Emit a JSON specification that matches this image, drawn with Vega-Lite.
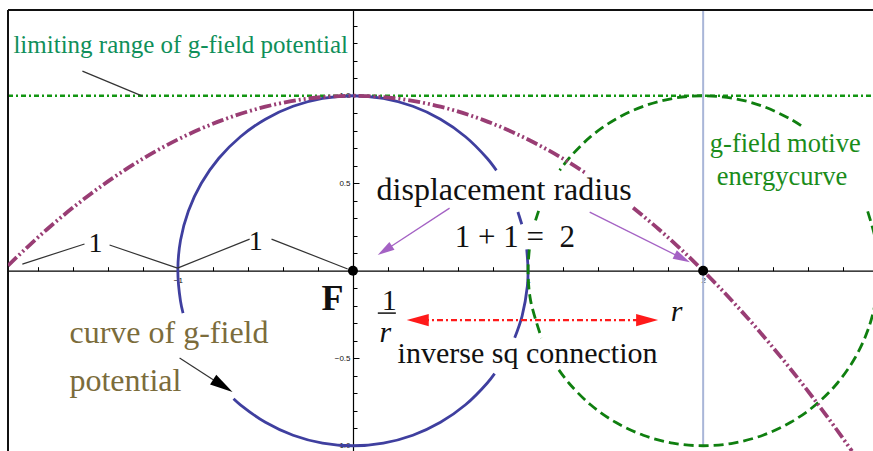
{
  "$schema": "https://vega.github.io/schema/vega-lite/v6.json",
  "width": 865,
  "height": 441,
  "padding": {"left": 8, "top": 10, "right": 0, "bottom": 0},
  "autosize": {"type": "none"},
  "background": "white",
  "config": {"view": {"stroke": null}, "text": {"font": "Liberation Serif, Times New Roman, serif"}},
  "datasets": {
    "blue": [
      {"s":1,"i":1,"x":0.8192,"y":0.5736},{"s":1,"i":2,"x":0.7660,"y":0.6428},{"s":1,"i":3,"x":0.6428,"y":0.7660},{"s":1,"i":4,"x":0.5,"y":0.8660},{"s":1,"i":5,"x":0.3420,"y":0.9397},{"s":1,"i":6,"x":0.1736,"y":0.9848},{"s":1,"i":7,"x":0,"y":1},{"s":1,"i":8,"x":-0.1736,"y":0.9848},{"s":1,"i":9,"x":-0.3420,"y":0.9397},{"s":1,"i":10,"x":-0.5,"y":0.8660},{"s":1,"i":11,"x":-0.6428,"y":0.7660},{"s":1,"i":12,"x":-0.7660,"y":0.6428},{"s":1,"i":13,"x":-0.8660,"y":0.5},{"s":1,"i":14,"x":-0.9397,"y":0.3420},{"s":1,"i":15,"x":-0.9848,"y":0.1736},{"s":1,"i":16,"x":-1,"y":0},{"s":1,"i":17,"x":-0.9848,"y":-0.1736},{"s":1,"i":18,"x":-0.9703,"y":-0.2419},
      {"s":2,"i":19,"x":-0.6820,"y":-0.7314},{"s":2,"i":20,"x":-0.6428,"y":-0.7660},{"s":2,"i":21,"x":-0.5,"y":-0.8660},{"s":2,"i":22,"x":-0.3420,"y":-0.9397},{"s":2,"i":23,"x":-0.1736,"y":-0.9848},{"s":2,"i":24,"x":0,"y":-1},{"s":2,"i":25,"x":0.1736,"y":-0.9848},{"s":2,"i":26,"x":0.3420,"y":-0.9397},{"s":2,"i":27,"x":0.5,"y":-0.8660},{"s":2,"i":28,"x":0.6428,"y":-0.7660},{"s":2,"i":29,"x":0.7660,"y":-0.6428},{"s":2,"i":30,"x":0.8090,"y":-0.5878},
      {"s":3,"i":31,"x":0.9239,"y":-0.3827},{"s":3,"i":32,"x":0.9659,"y":-0.2588},{"s":3,"i":33,"x":0.9962,"y":-0.0872},{"s":3,"i":34,"x":1,"y":0},{"s":3,"i":35,"x":0.9925,"y":0.1219},
      {"s":4,"i":36,"x":0.9641,"y":0.2656},{"s":4,"i":37,"x":0.9421,"y":0.3355}
    ],
    "green": [
      {"s":1,"i":1,"x":2.5592,"y":0.8290},{"s":1,"i":2,"x":2.5,"y":0.8660},{"s":1,"i":3,"x":2.3420,"y":0.9397},{"s":1,"i":4,"x":2.1736,"y":0.9848},{"s":1,"i":5,"x":2,"y":1},{"s":1,"i":6,"x":1.8264,"y":0.9848},{"s":1,"i":7,"x":1.6580,"y":0.9397},{"s":1,"i":8,"x":1.5,"y":0.8660},{"s":1,"i":9,"x":1.3572,"y":0.7660},{"s":1,"i":10,"x":1.2340,"y":0.6428},{"s":1,"i":11,"x":1.1808,"y":0.5736},
      {"s":2,"i":12,"x":1.0603,"y":0.3420},{"s":2,"i":13,"x":1.0387,"y":0.2756},
      {"s":3,"i":14,"x":1.0075,"y":0.1219},{"s":3,"i":15,"x":1,"y":0},{"s":3,"i":16,"x":1.0152,"y":-0.1736},{"s":3,"i":17,"x":1.0768,"y":-0.3843},
      {"s":4,"i":18,"x":1.1759,"y":-0.5664},{"s":4,"i":19,"x":1.2340,"y":-0.6428},{"s":4,"i":20,"x":1.3572,"y":-0.7660},{"s":4,"i":21,"x":1.5,"y":-0.8660},{"s":4,"i":22,"x":1.6580,"y":-0.9397},{"s":4,"i":23,"x":1.8264,"y":-0.9848},{"s":4,"i":24,"x":2,"y":-1},{"s":4,"i":25,"x":2.1736,"y":-0.9848},{"s":4,"i":26,"x":2.3420,"y":-0.9397},{"s":4,"i":27,"x":2.5,"y":-0.8660},{"s":4,"i":28,"x":2.6428,"y":-0.7660},{"s":4,"i":29,"x":2.7660,"y":-0.6428},{"s":4,"i":30,"x":2.8660,"y":-0.5},{"s":4,"i":31,"x":2.9397,"y":-0.3420},{"s":4,"i":32,"x":2.9848,"y":-0.1736},{"s":4,"i":33,"x":3,"y":0},{"s":4,"i":34,"x":2.9848,"y":0.1736},{"s":4,"i":35,"x":2.9336,"y":0.3584}
    ],
    "parab": [
      {"s":1,"i":1,"x":-1.97,"y":0.0298},{"s":1,"i":2,"x":-1.75,"y":0.2344},{"s":1,"i":3,"x":-1.5,"y":0.4375},{"s":1,"i":4,"x":-1.25,"y":0.6094},{"s":1,"i":5,"x":-1,"y":0.75},{"s":1,"i":6,"x":-0.75,"y":0.8594},{"s":1,"i":7,"x":-0.5,"y":0.9375},{"s":1,"i":8,"x":-0.25,"y":0.9844},{"s":1,"i":9,"x":0,"y":1},{"s":1,"i":10,"x":0.25,"y":0.9844},{"s":1,"i":11,"x":0.5,"y":0.9375},{"s":1,"i":12,"x":0.75,"y":0.8594},{"s":1,"i":13,"x":1,"y":0.75},{"s":1,"i":14,"x":1.25,"y":0.6094},{"s":1,"i":15,"x":1.33,"y":0.5578},
      {"s":2,"i":16,"x":1.6,"y":0.36},{"s":2,"i":17,"x":1.75,"y":0.2344},{"s":2,"i":18,"x":2,"y":0},{"s":2,"i":19,"x":2.25,"y":-0.2656},{"s":2,"i":20,"x":2.5,"y":-0.5625},{"s":2,"i":21,"x":2.75,"y":-0.8906},{"s":2,"i":22,"x":2.85,"y":-1.0306}
    ]
  },
  "encoding": {
    "x": {"field": "x", "type": "quantitative", "scale": {"domain": [-1.97, 2.97], "nice": false, "zero": false}, "axis": null},
    "y": {"field": "y", "type": "quantitative", "scale": {"domain": [-1.03, 1.49], "nice": false, "zero": false}, "axis": null}
  },
  "resolve": {"axis": {"x": "independent", "y": "independent"}},
  "layer": [
    {
      "data": {"values": [{"x": 2, "y": -1, "x2": 2, "y2": 1.49}]},
      "mark": {"type": "rule", "color": "#a9b6d8", "strokeWidth": 2},
      "encoding": {
        "x": {"field": "x", "type": "quantitative", "scale": {"domain": [-1.97, 2.97], "nice": false, "zero": false},
          "axis": {"orient": "bottom", "offset": -180.3, "values": [-1, 1, 2], "format": "d", "ticks": false, "domain": false, "grid": false, "title": null, "labelFont": "Liberation Sans", "labelFontSize": 8, "labelColor": "#111", "labelPadding": 6}},
        "y": {"field": "y", "type": "quantitative", "scale": {"domain": [-1.03, 1.49], "nice": false, "zero": false},
          "axis": {"orient": "left", "offset": -345, "values": [-1, -0.5, 0.5, 1, 1.5], "format": ".1f", "ticks": false, "domain": false, "grid": false, "title": null, "labelFont": "Liberation Sans", "labelFontSize": 8, "labelColor": "#111", "labelPadding": 3}},
        "x2": {"field": "x2"}, "y2": {"field": "y2"}
      }
    },
    {
      "data": {"values": [{"x": -1.97, "y": 1, "x2": 2.97, "y2": 1}]},
      "mark": {"type": "rule", "color": "#129612", "strokeWidth": 2.6, "strokeDash": [5, 3, 2, 3]},
      "encoding": {
        "x": {"field": "x", "type": "quantitative", "scale": {"domain": [-1.97, 2.97], "nice": false, "zero": false},
          "axis": {"orient": "bottom", "offset": -180.3, "values": [-1, 1, 2], "labels": false, "tickSize": -6, "tickColor": "black", "tickWidth": 1, "domain": false, "grid": false, "title": null}},
        "y": {"field": "y", "type": "quantitative", "scale": {"domain": [-1.03, 1.49], "nice": false, "zero": false},
          "axis": {"orient": "left", "offset": -345, "values": [-1, -0.5, 0.5, 1], "labels": false, "tickSize": -6, "tickColor": "black", "tickWidth": 1, "domain": false, "grid": false, "title": null}},
        "x2": {"field": "x2"}, "y2": {"field": "y2"}
      }
    },
    {
      "data": {"values": [{"x": -1.97, "y": -1.03, "x2": -1.97, "y2": 1.49}, {"x": -1.97, "y": 1.49, "x2": 2.97, "y2": 1.49}]},
      "mark": {"type": "rule", "color": "#111", "strokeWidth": 2},
      "encoding": {
        "x": {"field": "x", "type": "quantitative", "scale": {"domain": [-1.97, 2.97], "nice": false, "zero": false},
          "axis": {"orient": "bottom", "offset": -180.3, "values": [-1.8, -1.6, -1.4, -1.2, -0.8, -0.6, -0.4, -0.2, 0.2, 0.4, 0.6, 0.8, 1.2, 1.4, 1.6, 1.8, 2.2, 2.4, 2.6, 2.8], "labels": false, "tickSize": -4, "tickColor": "black", "tickWidth": 1, "domain": true, "domainColor": "black", "domainWidth": 1.2, "grid": false, "title": null}},
        "y": {"field": "y", "type": "quantitative", "scale": {"domain": [-1.03, 1.49], "nice": false, "zero": false},
          "axis": {"orient": "left", "offset": -345, "values": [-0.9, -0.8, -0.7, -0.6, -0.4, -0.3, -0.2, -0.1, 0.1, 0.2, 0.3, 0.4, 0.6, 0.7, 0.8, 0.9, 1.1, 1.2, 1.3, 1.4], "labels": false, "tickSize": -4, "tickColor": "black", "tickWidth": 1, "domain": true, "domainColor": "black", "domainWidth": 1.2, "grid": false, "title": null}},
        "x2": {"field": "x2"}, "y2": {"field": "y2"}
      }
    },
    {
      "data": {"name": "blue"},
      "mark": {"type": "line", "color": "#3f3f9f", "strokeWidth": 2.8, "interpolate": "catmull-rom", "clip": true},
      "encoding": {"detail": {"field": "s"}, "order": {"field": "i", "type": "quantitative"}}
    },
    {
      "data": {"name": "green"},
      "mark": {"type": "line", "color": "#0f7f0f", "strokeWidth": 2.8, "strokeDash": [10, 5], "interpolate": "catmull-rom", "clip": true},
      "encoding": {"detail": {"field": "s"}, "order": {"field": "i", "type": "quantitative"}}
    },
    {
      "data": {"name": "parab"},
      "mark": {"type": "line", "color": "#993d74", "strokeWidth": 3.8, "strokeDash": [12, 3, 2, 3, 2, 3], "interpolate": "monotone", "clip": true},
      "encoding": {"detail": {"field": "s"}, "order": {"field": "i", "type": "quantitative"}}
    },
    {
      "data": {"values": [
        {"x": -1.888, "y": 0.038, "x2": -1.533, "y2": 0.153},
        {"x": -1.39, "y": 0.147, "x2": -1.002, "y2": 0.015},
        {"x": -1.002, "y": 0.015, "x2": -0.59, "y2": 0.181},
        {"x": -0.465, "y": 0.181, "x2": -0.03, "y2": 0.01},
        {"x": -1.545, "y": 1.141, "x2": -1.202, "y2": 0.998},
        {"x": -0.99, "y": -0.499, "x2": -0.743, "y2": -0.658}
      ]},
      "mark": {"type": "rule", "color": "#333", "strokeWidth": 1.2},
      "encoding": {"x2": {"field": "x2"}, "y2": {"field": "y2"}}
    },
    {
      "data": {"values": [
        {"x": 0.552, "y": 0.358, "x2": 0.182, "y2": 0.116},
        {"x": 1.352, "y": 0.335, "x2": 1.881, "y2": 0.071}
      ]},
      "mark": {"type": "rule", "color": "#a462c4", "strokeWidth": 1.3},
      "encoding": {"x2": {"field": "x2"}, "y2": {"field": "y2"}}
    },
    {
      "data": {"values": [{"x": 0.40, "y": -0.282, "x2": 1.65, "y2": -0.282}]},
      "mark": {"type": "rule", "color": "#ff1a1a", "strokeWidth": 2.4, "strokeDash": [6, 3, 2, 3]},
      "encoding": {"x2": {"field": "x2"}, "y2": {"field": "y2"}}
    },
    {
      "data": {"values": [{"x": 0.142, "y": -0.242, "x2": 0.245, "y2": -0.242}]},
      "mark": {"type": "rule", "color": "#111", "strokeWidth": 1.5},
      "encoding": {"x2": {"field": "x2"}, "y2": {"field": "y2"}}
    },
    {
      "data": {"values": [{"x": -0.743, "y": -0.658}]},
      "mark": {"type": "point", "shape": "M1,0L-1,-0.5L-1,0.5Z", "size": 529, "angle": 32.7, "filled": true, "color": "#000", "opacity": 1, "strokeWidth": 0}
    },
    {
      "data": {"values": [{"x": 0.182, "y": 0.116}]},
      "mark": {"type": "point", "shape": "M1,0L-1,-0.55L-1,0.55Z", "size": 289, "angle": 146.9, "filled": true, "color": "#a462c4", "opacity": 1, "strokeWidth": 0}
    },
    {
      "data": {"values": [{"x": 1.881, "y": 0.071}]},
      "mark": {"type": "point", "shape": "M1,0L-1,-0.55L-1,0.55Z", "size": 289, "angle": 26.6, "filled": true, "color": "#a462c4", "opacity": 1, "strokeWidth": 0}
    },
    {
      "data": {"values": [{"x": 0.37, "y": -0.282}]},
      "mark": {"type": "point", "shape": "M1,0L-1,-0.55L-1,0.55Z", "size": 484, "angle": 180, "filled": true, "color": "#ff1a1a", "opacity": 1, "strokeWidth": 0}
    },
    {
      "data": {"values": [{"x": 1.68, "y": -0.282}]},
      "mark": {"type": "point", "shape": "M1,0L-1,-0.55L-1,0.55Z", "size": 484, "angle": 0, "filled": true, "color": "#ff1a1a", "opacity": 1, "strokeWidth": 0}
    },
    {
      "data": {"values": [{"x": 0, "y": 0}, {"x": 2, "y": 0}]},
      "mark": {"type": "point", "shape": "circle", "size": 100, "filled": true, "color": "#000", "opacity": 1, "strokeWidth": 0}
    },
    {
      "data": {"values": [{"x": -1.939, "y": 1.244, "t": "limiting range of g-field potential"}]},
      "mark": {"type": "text", "font": "Liberation Serif, Times New Roman, serif", "fontSize": 25, "color": "#0f8f5a", "align": "left", "baseline": "alphabetic"},
      "encoding": {"text": {"field": "t"}}
    },
    {
      "data": {"values": [{"x": 2.038, "y": 0.678, "t": "g-field motive"}, {"x": 2.078, "y": 0.49, "t": "energycurve"}]},
      "mark": {"type": "text", "font": "Liberation Serif, Times New Roman, serif", "fontSize": 26.5, "color": "#1a8c1a", "align": "left", "baseline": "alphabetic"},
      "encoding": {"text": {"field": "t"}}
    },
    {
      "data": {"values": [{"x": 0.135, "y": 0.404, "t": "displacement radius"}]},
      "mark": {"type": "text", "font": "Liberation Serif, Times New Roman, serif", "fontSize": 32, "color": "#111", "align": "left", "baseline": "alphabetic"},
      "encoding": {"text": {"field": "t"}}
    },
    {
      "data": {"values": [{"x": 0.581, "y": 0.135, "t": "1 + 1 =\u00a0 2"}]},
      "mark": {"type": "text", "font": "Liberation Serif, Times New Roman, serif", "fontSize": 31, "color": "#111", "align": "left", "baseline": "alphabetic"},
      "encoding": {"text": {"field": "t"}}
    },
    {
      "data": {"values": [{"x": 0.255, "y": -0.527, "t": "inverse sq connection"}, {"x": 0.164, "y": -0.225, "t": "1"}]},
      "mark": {"type": "text", "font": "Liberation Serif, Times New Roman, serif", "fontSize": 30, "color": "#111", "align": "left", "baseline": "alphabetic"},
      "encoding": {"text": {"field": "t"}}
    },
    {
      "data": {"values": [{"x": 0.152, "y": -0.408, "t": "r"}, {"x": 1.815, "y": -0.288, "t": "r"}]},
      "mark": {"type": "text", "font": "Liberation Serif, Times New Roman, serif", "fontSize": 30, "fontStyle": "italic", "color": "#111", "align": "left", "baseline": "alphabetic"},
      "encoding": {"text": {"field": "t"}}
    },
    {
      "data": {"values": [{"x": -0.179, "y": -0.225, "t": "F"}]},
      "mark": {"type": "text", "font": "Liberation Serif, Times New Roman, serif", "fontSize": 36, "fontWeight": "bold", "color": "#111", "align": "left", "baseline": "alphabetic"},
      "encoding": {"text": {"field": "t"}}
    },
    {
      "data": {"values": [{"x": -1.619, "y": -0.413, "t": "curve of g-field"}, {"x": -1.619, "y": -0.687, "t": "potential"}]},
      "mark": {"type": "text", "font": "Liberation Serif, Times New Roman, serif", "fontSize": 32, "color": "#7b6c3b", "align": "left", "baseline": "alphabetic"},
      "encoding": {"text": {"field": "t"}}
    },
    {
      "data": {"values": [{"x": -1.47, "y": 0.107, "t": "1"}, {"x": -0.555, "y": 0.118, "t": "1"}]},
      "mark": {"type": "text", "font": "Liberation Serif, Times New Roman, serif", "fontSize": 28, "color": "#111", "align": "center", "baseline": "alphabetic"},
      "encoding": {"text": {"field": "t"}}
    }
  ]
}
